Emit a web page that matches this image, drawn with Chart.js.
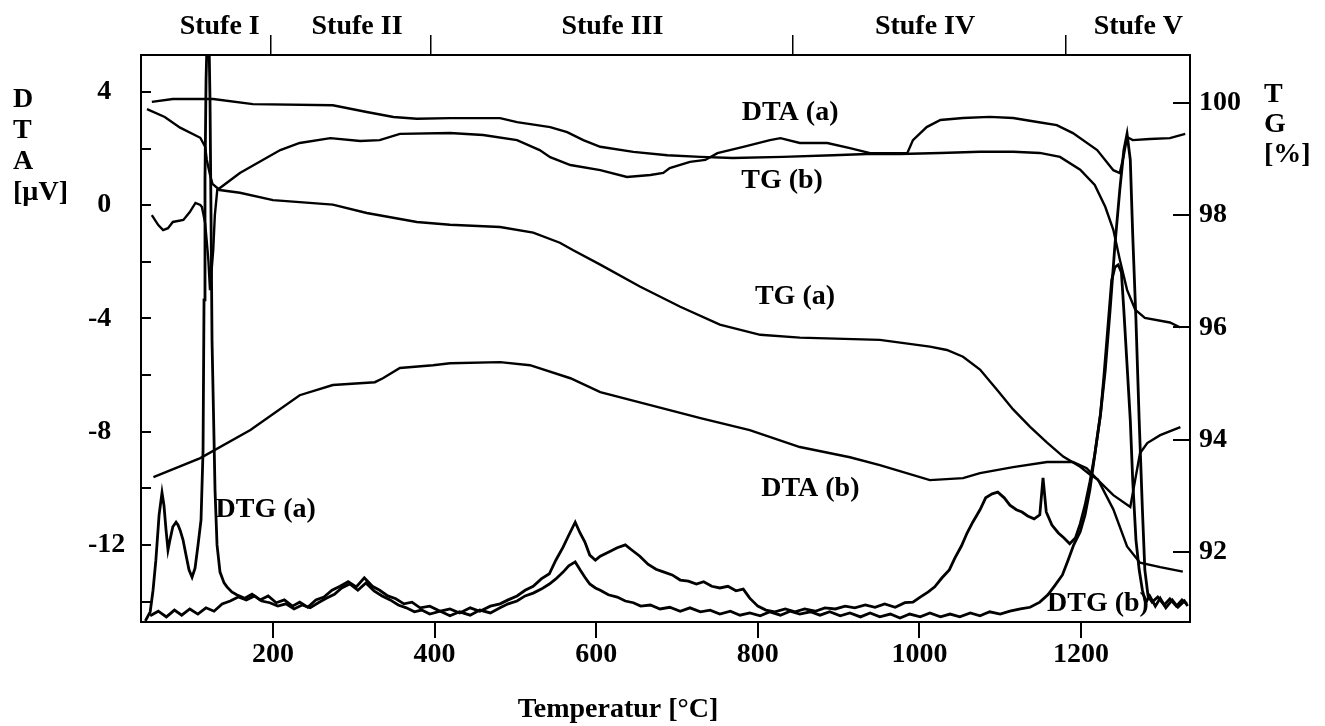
<!DOCTYPE html>
<html>
<head>
<meta charset="utf-8">
<title>DTA / TG / DTG</title>
<script src="https://cdn.jsdelivr.net/npm/chart.js"></script>
<style>
  html, body { margin: 0; padding: 0; background: #fff; }
  #wrap { width: 1325px; height: 726px; }
</style>
</head>
<body>
<div id="wrap"><canvas id="chart" width="1325" height="726"></canvas></div>
<script>
// axis ticks
const xTicks = [200, 400, 600, 800, 1000, 1200];
const dtaTicks = [4, 2, 0, -2, -4, -6, -8, -10, -12, -14];
const tgTicks = [100, 98, 96, 94, 92];

// temperature stages (boundaries in °C) and their names
const stageBounds = [197.5, 395.5, 843.6, 1181.4];
const stageNames = ['Stufe I', 'Stufe II', 'Stufe III', 'Stufe IV', 'Stufe V'];
const stageCentres = [134, 304, 620, 1007, 1271];

// DTA (a) [µV]
const dtaA_T = [50, 58, 64, 70, 76, 89, 97, 104, 110, 112, 116, 120, 122, 126, 128, 131, 159, 172, 209, 233,
  271, 308, 332, 357, 419, 460, 502, 530, 543, 568, 605, 638, 667, 683, 691, 716, 735, 750, 782, 815,
  828, 852, 886, 914, 939, 985, 992, 1009, 1026, 1054, 1087, 1116, 1146, 1170, 1190, 1220, 1240, 1248, 1253, 1257,
  1264, 1285, 1310, 1329];
const dtaA = [-0.35, -0.70, -0.88, -0.81, -0.59, -0.52, -0.24, 0.08, 0.01, -0.06, -0.63, -1.94, -3.00, -1.58, -0.35, 0.54, 1.14, 1.35, 1.95, 2.20,
  2.37, 2.27, 2.30, 2.52, 2.55, 2.48, 2.30, 1.95, 1.70, 1.42, 1.24, 1.00, 1.07, 1.14, 1.31, 1.53, 1.60, 1.84, 2.06, 2.30,
  2.37, 2.20, 2.20, 2.02, 1.84, 1.84, 2.30, 2.76, 3.01, 3.08, 3.12, 3.08, 2.94, 2.83, 2.55, 1.95, 1.24, 1.14, 1.77, 2.41,
  2.30, 2.34, 2.37, 2.52];

// DTA (b) [µV]
const dtaB_T = [52, 110, 172, 233, 274, 326, 336, 357, 398, 419, 481, 518, 568, 605, 667, 729, 790, 852, 914, 951,
  1013, 1054, 1075, 1116, 1158, 1190, 1207, 1221, 1240, 1261, 1267, 1273, 1282, 1298, 1323];
const dtaB = [-9.60, -8.93, -7.94, -6.71, -6.35, -6.25, -6.11, -5.75, -5.65, -5.58, -5.54, -5.65, -6.11, -6.60, -7.06, -7.52, -7.94, -8.54, -8.90, -9.18,
  -9.71, -9.64, -9.46, -9.25, -9.07, -9.07, -9.29, -9.71, -10.24, -10.66, -9.71, -8.76, -8.40, -8.12, -7.84];

// TG (a) [%]
const tgA_T = [44, 66, 85, 110, 116, 118, 122, 125, 134, 159, 200, 274, 316, 378, 419, 481, 522, 555, 571, 605,
  654, 704, 753, 803, 852, 951, 1013, 1034, 1054, 1075, 1096, 1116, 1137, 1158, 1178, 1199, 1211, 1221, 1240, 1257,
  1273, 1298, 1326];
const tgA = [99.89, 99.75, 99.56, 99.38, 99.22, 98.99, 98.72, 98.56, 98.45, 98.40, 98.27, 98.19, 98.04, 97.88, 97.83, 97.79, 97.69, 97.51, 97.38, 97.12,
  96.73, 96.37, 96.05, 95.87, 95.82, 95.78, 95.66, 95.60, 95.48, 95.25, 94.89, 94.54, 94.23, 93.95, 93.70, 93.52, 93.38, 93.29, 92.76, 92.10,
  91.81, 91.73, 91.65];

// TG (b) [%]
const tgB_T = [50, 76, 126, 175, 274, 316, 349, 378, 419, 481, 502, 543, 564, 584, 605, 646, 688, 729, 769, 831,
  893, 935, 976, 1026, 1075, 1116, 1149, 1174, 1199, 1217, 1230, 1240, 1248, 1257, 1267, 1279, 1310, 1323];
const tgB = [100.02, 100.07, 100.07, 99.98, 99.96, 99.84, 99.75, 99.72, 99.73, 99.73, 99.66, 99.57, 99.48, 99.34, 99.22, 99.13, 99.07, 99.04, 99.02, 99.04,
  99.07, 99.09, 99.09, 99.11, 99.13, 99.13, 99.11, 99.04, 98.81, 98.54, 98.15, 97.74, 97.21, 96.67, 96.32, 96.17, 96.09, 96.00];

// DTG (a), relative units (0 = baseline)
const dtgA_T = [42, 48, 51.5, 55, 59, 62.6, 65, 67.6, 70, 72.5, 76, 80, 82.4, 85, 88.6, 92.3, 96, 99.8, 103.5, 107.2,
  110.9, 113.4, 114.6, 115.8, 117.1, 118.3, 120.8, 122, 123.3, 124.5, 127, 128.2, 130.7, 134.4, 139.4, 143, 149, 155, 165, 174,
  184, 194, 204, 214, 224, 233, 243, 253, 263, 273, 283, 293, 303, 313, 323, 332, 342, 352, 362, 372,
  382, 394, 407, 419, 431, 444, 456, 469, 481, 491, 502, 512, 522, 532, 542, 550, 559, 566, 574, 580,
  586, 592, 599, 605, 615, 626, 636, 644, 654, 664, 674, 684, 694, 704, 714, 724, 733, 743, 753, 763,
  773, 782, 790, 800, 810, 821, 834, 846, 858, 871, 883, 896, 908, 920, 933, 945, 957, 970, 982, 992,
  1001, 1011, 1019, 1028, 1037, 1044, 1052, 1059, 1066, 1075, 1082, 1090, 1097, 1105, 1112, 1120, 1127, 1134, 1142, 1149,
  1153, 1157, 1164, 1172, 1179, 1186, 1193, 1199, 1205, 1211, 1217, 1224, 1230, 1236, 1242, 1248, 1253, 1257, 1261, 1264,
  1268, 1272, 1276, 1279, 1283, 1288, 1295, 1303, 1310, 1318, 1325, 1331];
const dtgA = [0.2, 1.8, 5.6, 10.9, 18.9, 22.8, 20.6, 16.2, 12.7, 14.5, 16.8, 17.6, 17.1, 16.2, 14.5, 11.8, 9.2, 7.9, 9.5, 13.6,
  18.0, 30.3, 56.8, 78.0, 95.6, 102.6, 102.6, 92.1, 70.9, 49.7, 32.1, 23.3, 13.6, 8.8, 6.9, 6.2, 5.3, 4.8, 4.2, 4.9,
  3.9, 4.6, 3.4, 3.9, 2.8, 3.5, 2.6, 3.9, 4.4, 5.6, 6.3, 7.1, 6.2, 7.8, 6.3, 5.6, 4.6, 4.1, 3.2, 3.5,
  2.5, 2.8, 1.9, 2.3, 1.6, 2.5, 1.9, 2.8, 3.2, 3.9, 4.6, 5.6, 6.3, 7.6, 8.5, 10.9, 13.2, 15.3, 17.6, 15.7,
  14.1, 11.8, 10.9, 11.6, 12.3, 13.1, 13.6, 12.7, 11.6, 10.2, 9.3, 8.8, 8.3, 7.4, 7.2, 6.7, 7.1, 6.3, 6.0, 6.3,
  5.5, 5.8, 4.2, 2.8, 2.1, 1.8, 2.3, 1.8, 2.3, 1.9, 2.5, 2.3, 2.8, 2.5, 3.0, 2.6, 3.2, 2.6, 3.4, 3.5,
  4.4, 5.3, 6.2, 7.8, 9.2, 11.3, 13.4, 15.7, 17.6, 19.8, 21.9, 22.6, 22.9, 21.9, 20.6, 19.8, 19.4, 18.7, 18.2, 18.9,
  25.4, 19.4, 17.1, 15.7, 14.8, 13.8, 14.8, 17.3, 20.6, 24.7, 29.5, 36.5, 44.4, 55.0, 66.5, 76.2, 83.2, 86.1, 81.5, 68.3,
  53.3, 35.6, 19.8, 9.2, 4.6, 3.5, 4.4, 3.0, 4.1, 2.8, 3.9, 3.2];

// DTG (b), relative units
const dtgB_T = [48, 58, 68, 78, 87, 97, 107, 117, 127, 137, 147, 157, 167, 177, 186, 196, 206, 216, 226, 236,
  246, 256, 266, 276, 285, 295, 305, 315, 325, 335, 345, 355, 365, 375, 384, 394, 407, 419, 431, 444,
  456, 469, 481, 491, 502, 512, 522, 532, 542, 550, 559, 566, 574, 580, 586, 592, 599, 605, 615, 626,
  636, 646, 655, 667, 679, 691, 704, 716, 729, 741, 753, 766, 778, 790, 803, 815, 828, 840, 852, 865,
  877, 889, 902, 914, 927, 939, 951, 964, 976, 988, 1001, 1013, 1026, 1038, 1050, 1063, 1075, 1087, 1100, 1112,
  1125, 1137, 1149, 1159, 1168, 1177, 1184, 1191, 1199, 1205, 1211, 1217, 1224, 1228, 1233, 1238, 1242, 1246, 1250, 1253,
  1257, 1261, 1264, 1268, 1272, 1276, 1280, 1285, 1292, 1298, 1305, 1313, 1320, 1328, 1332];
const dtgB = [1.1, 1.9, 0.9, 2.1, 1.2, 2.3, 1.4, 2.5, 1.9, 3.2, 3.7, 4.4, 3.9, 4.6, 3.7, 3.4, 2.8, 3.2, 2.3, 3.0,
  2.5, 3.4, 4.2, 4.9, 6.0, 6.7, 5.6, 6.9, 5.5, 4.6, 3.9, 3.0, 2.5, 1.8, 2.1, 1.4, 1.9, 1.1, 1.8, 1.2,
  2.1, 1.6, 2.5, 3.2, 3.7, 4.6, 5.1, 5.8, 6.7, 7.6, 8.8, 9.9, 10.6, 9.2, 7.9, 6.7, 6.0, 5.6, 4.8, 4.4,
  3.7, 3.4, 2.8, 3.0, 2.3, 2.6, 1.9, 2.5, 1.8, 2.1, 1.4, 1.9, 1.2, 1.6, 1.1, 1.8, 1.2, 1.9, 1.4, 1.8,
  1.2, 1.8, 1.1, 1.6, 0.9, 1.6, 0.9, 1.4, 0.7, 1.4, 0.9, 1.6, 0.9, 1.4, 0.9, 1.6, 1.1, 1.8, 1.4, 1.9,
  2.3, 2.6, 3.5, 4.8, 6.5, 8.3, 10.9, 13.6, 15.9, 18.9, 23.3, 29.5, 36.5, 42.7, 51.5, 60.3, 62.6, 63.0, 61.7, 55.0,
  45.3, 35.6, 25.0, 14.5, 9.2, 5.6, 3.4, 4.6, 2.8, 4.2, 2.5, 3.9, 2.6, 3.7, 2.8];

// curve names, placed next to their curves (x in °C, y on the DTA scale)
const curveTags = [
  { text: 'DTA (a)', t: 840, v: 3.26 },
  { text: 'TG (b)', t: 830, v: 0.86 },
  { text: 'TG (a)', t: 846, v: -3.24 },
  { text: 'DTA (b)', t: 865, v: -10.03 },
  { text: 'DTG (a)', t: 191, v: -10.77 },
  { text: 'DTG (b)', t: 1221, v: -14.09 }
];

const serif = '"Liberation Serif", "Times New Roman", serif';
const tickFont = { family: serif, size: 28, weight: 'bold' };
const black = '#000';

function pts(ts, vs) {
  return ts.map((t, i) => ({ x: t, y: vs[i] }));
}

function line(data, axis, width) {
  return {
    data: data,
    yAxisID: axis,
    showLine: true,
    borderColor: black,
    borderWidth: width,
    pointRadius: 0,
    tension: 0,
    fill: false
  };
}

const decor = {
  id: 'decor',
  afterDatasetsDraw(chart) {
    const ctx = chart.ctx;
    const x = chart.scales.x;
    const y = chart.scales.y;
    const area = chart.chartArea;
    ctx.save();
    ctx.font = 'bold 28px ' + serif;
    ctx.fillStyle = black;

    // curve names
    ctx.textAlign = 'center';
    ctx.textBaseline = 'middle';
    curveTags.forEach((c) => {
      ctx.fillText(c.text, x.getPixelForValue(c.t), y.getPixelForValue(c.v));
    });

    // stage names above the frame
    ctx.textBaseline = 'alphabetic';
    stageNames.forEach((s, i) => {
      ctx.fillText(s, x.getPixelForValue(stageCentres[i]), area.top - 21);
    });

    // axis titles
    ctx.fillText('Temperatur [°C]', 618, 717);
    ctx.textAlign = 'left';
    ['D', 'T', 'A', '[µV]'].forEach((s, i) => ctx.fillText(s, 13, 107 + i * 31));
    ['T', 'G', '[%]'].forEach((s, i) => ctx.fillText(s, 1264, 102 + i * 30));
    ctx.restore();
  }
};

new Chart(document.getElementById('chart'), {
  type: 'scatter',
  data: {
    datasets: [
      line(pts(dtaA_T, dtaA), 'y', 2.4),
      line(pts(dtaB_T, dtaB), 'y', 2.4),
      line(pts(tgA_T, tgA), 'yTG', 2.4),
      line(pts(tgB_T, tgB), 'yTG', 2.4),
      line(pts(dtgA_T, dtgA), 'yDTG', 2.8),
      line(pts(dtgB_T, dtgB), 'yDTG', 2.8)
    ]
  },
  options: {
    responsive: false,
    animation: false,
    layout: { padding: { left: 88, right: 0, top: 0, bottom: 0 } },
    plugins: { legend: { display: false }, tooltip: { enabled: false } },
    scales: {
      x: {
        type: 'linear',
        position: 'bottom',
        min: 36.6,
        max: 1334.9,
        afterBuildTicks: (s) => { s.ticks = xTicks.map((v) => ({ value: v })); },
        afterFit: (s) => { s.height = 104; },
        grid: { drawOnChartArea: false, tickLength: 16, lineWidth: 2, color: black },
        border: { display: true, width: 2, color: black },
        ticks: { font: tickFont, color: black, padding: 0, maxRotation: 0, autoSkip: false, callback: (v) => String(v) }
      },
      xTop: {
        type: 'linear',
        position: 'top',
        min: 36.6,
        max: 1334.9,
        afterBuildTicks: (s) => { s.ticks = stageBounds.map((v) => ({ value: v })); },
        afterFit: (s) => { s.height = 55; },
        grid: { drawOnChartArea: false, tickLength: 20, lineWidth: 1.5, color: black },
        border: { display: true, width: 2, color: black },
        ticks: { display: false }
      },
      y: {
        type: 'linear',
        position: 'left',
        min: -14.72,
        max: 5.307,
        afterBuildTicks: (s) => { s.ticks = dtaTicks.map((v) => ({ value: v })); },
        afterFit: (s) => { s.width = 53; },
        grid: { drawOnChartArea: false, tickLength: -10, lineWidth: 2, color: black },
        border: { display: true, width: 2, color: black },
        ticks: {
          font: tickFont, color: black, crossAlign: 'far', autoSkip: false,
          callback: (v) => (v % 4 === 0 ? (v >= 0 ? '\u2004' + v : String(v)) : '')
        }
      },
      yTG: {
        type: 'linear',
        position: 'right',
        min: 90.753,
        max: 100.855,
        afterBuildTicks: (s) => { s.ticks = tgTicks.map((v) => ({ value: v })); },
        afterFit: (s) => { s.width = 135; },
        grid: { drawOnChartArea: false, tickLength: -17, lineWidth: 2, color: black },
        border: { display: true, width: 2, color: black },
        ticks: { font: tickFont, color: black, padding: 26, autoSkip: false, callback: (v) => String(v) }
      },
      yDTG: {
        type: 'linear',
        display: false,
        min: 0,
        max: 100
      }
    }
  },
  plugins: [decor]
});
</script>
</body>
</html>
